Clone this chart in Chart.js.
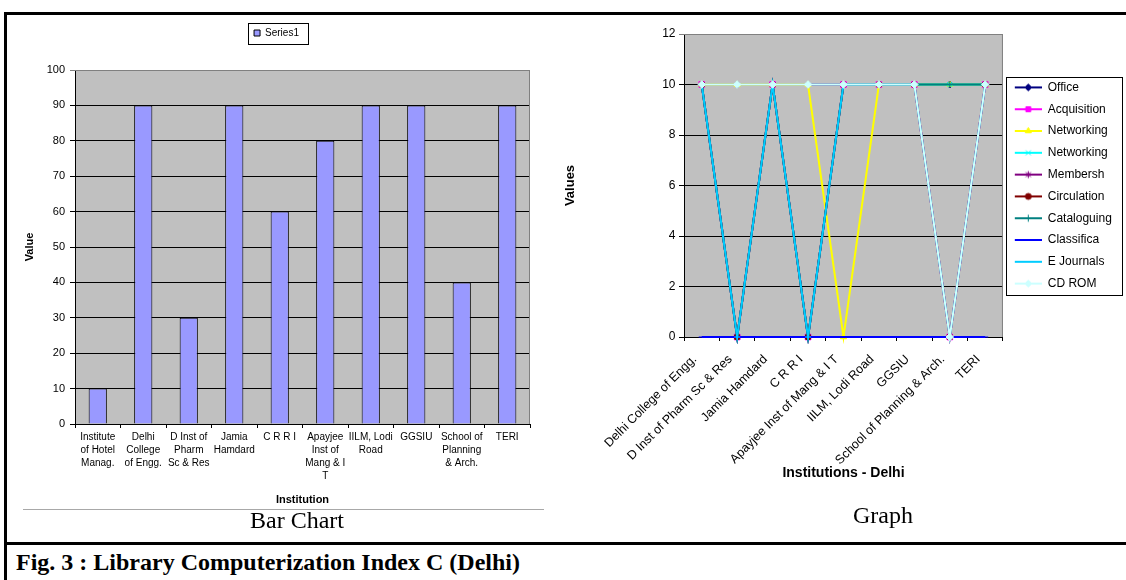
<!DOCTYPE html>
<html><head><meta charset="utf-8">
<script src="https://cdn.jsdelivr.net/npm/chart.js@4.4.1/dist/chart.umd.min.js"></script>
<style>
html,body{margin:0;padding:0;width:1126px;height:580px;overflow:hidden;background:#fff;}
.abs{position:absolute;}
.serif{font-family:'Liberation Serif','Times New Roman',serif;color:#000;white-space:nowrap;}
</style></head><body>
<div class="abs" style="left:4px;top:12px;width:1122px;height:3px;background:#000"></div>
<div class="abs" style="left:4px;top:12px;width:3px;height:568px;background:#000"></div>
<div class="abs" style="left:4px;top:542px;width:1122px;height:3px;background:#000"></div>
<div class="abs" style="left:23px;top:509px;width:521px;height:1px;background:#a8a8a8"></div>
<canvas id="c1" class="abs" style="left:0;top:0;width:560px;height:540px" width="560" height="540"></canvas>
<canvas id="c2" class="abs" style="left:560px;top:0;width:566px;height:540px" width="566" height="540"></canvas>
<div class="abs serif" style="left:197px;width:200px;text-align:center;top:508px;font-size:24px;line-height:24px">Bar Chart</div>
<div class="abs serif" style="left:783px;width:200px;text-align:center;top:503px;font-size:24px;line-height:24px">Graph</div>
<div class="abs serif" style="left:16px;top:550px;font-size:24px;line-height:24px;font-weight:bold">Fig. 3 : Library Computerization Index C (Delhi)</div>
<script>
// ---------- DATA ----------
const barCategories = [
  ["Institute","of Hotel","Manag."],
  ["Delhi","College","of Engg."],
  ["D Inst of","Pharm","Sc & Res"],
  ["Jamia","Hamdard"],
  ["C R R I"],
  ["Apayjee","Inst of","Mang & I","T"],
  ["IILM, Lodi","Road"],
  ["GGSIU"],
  ["School of","Planning","& Arch."],
  ["TERI"]
];
const barSeriesName = "Series1";
const barValues = [10, 90, 30, 90, 60, 80, 90, 90, 40, 90];
const barYMin = 0, barYMax = 100, barYStep = 10;

const lineCategories = ["Delhi College of Engg.","D Inst of Pharm Sc & Res","Jamia Hamdard","C R R I",
  "Apayjee Inst of Mang & I T","IILM, Lodi Road","GGSIU","School of Planning & Arch.","TERI"];
const seriesNames = ["Office","Acquisition","Networking","Networking","Membersh","Circulation","Cataloguing","Classifica","E Journals","CD ROM"];
const officeValues      = [10, 10, 10, 10, 10, 10, 10, 10, 10];
const acquisitionValues = [10, 0, 10, 0, 10, 10, 10, 0, 10];
const networkingAValues = [10, 10, 10, 10, 0, 10, 10, 10, 10];
const networkingBValues = [10, 0, 10, 0, 10, 10, 10, 10, 10];
const membershValues    = [10, 0, 10, 0, 10, 10, 10, 0, 10];
const circulationValues = [10, 0, 10, 0, 10, 10, 10, 0, 10];
const cataloguingValues = [10, 0, 10, 0, 10, 10, 10, 10, 10];
const classificaValues  = [0, 0, 0, 0, 0, 0, 0, 0, 0];
const eJournalsValues   = [10, 0, 10, 0, 10, 10, 10, 0, 10];
const cdRomValues       = [10, 10, 10, 10, 10, 10, 10, 0, 10];
const lineYMin = 0, lineYMax = 12, lineYStep = 2;

// ---------- STYLES ----------
const seriesColors = ["#000080","#FF00FF","#FFFF00","#00FFFF","#800080","#800000","#008080","#0000FF","#00CCFF","#CCFFFF"];
const seriesMarkers = ["rectRot","rect","triangle","crossRot","star","circle","cross","line","line","rectRot"];
const seriesRadius = [3.5,4,3.5,3.5,3.5,3,3.5,3,3,3.8];

Chart.defaults.font.family = "'Liberation Sans', Arial, sans-serif";
Chart.defaults.color = "#000";

const plotBg = {
  id: 'plotBg',
  beforeDraw(chart) {
    const {ctx, chartArea: a} = chart;
    ctx.save(); ctx.fillStyle = '#C0C0C0';
    ctx.fillRect(a.left, a.top, a.right - a.left, a.bottom - a.top); ctx.restore();
  },
  beforeDatasetsDraw(chart) {
    const {ctx, chartArea: a} = chart;
    ctx.save(); ctx.strokeStyle = '#808080'; ctx.lineWidth = 1;
    ctx.beginPath(); ctx.moveTo(a.left, a.top + 0.5); ctx.lineTo(a.right - 0.5, a.top + 0.5);
    ctx.lineTo(a.right - 0.5, a.bottom); ctx.stroke(); ctx.restore();
  }
};
const legendFrame = {
  id: 'legendFrame',
  afterDraw(chart, args, o) {
    const lg = chart.legend;
    if (!lg || !lg.legendHitBoxes || !lg.legendHitBoxes.length) return;
    const hb = lg.legendHitBoxes, f = hb[0], l = hb[hb.length - 1];
    let x0, x1;
    if (o.mode === 'item') { x0 = f.left - o.pl; x1 = f.left + f.width + o.pr; }
    else { x0 = lg.left + o.pl; x1 = lg.left + o.pr; }
    const y0 = f.top - o.pt, y1 = l.top + l.height + o.pb;
    const ctx = chart.ctx;
    ctx.save(); ctx.strokeStyle = '#000'; ctx.lineWidth = 1;
    ctx.strokeRect(Math.round(x0) + 0.5, Math.round(y0) + 0.5, Math.round(x1 - x0), Math.round(y1 - y0));
    ctx.restore();
  }
};

// ---------- BAR CHART ----------
new Chart(document.getElementById('c1'), {
  type: 'bar',
  data: {
    labels: barCategories,
    datasets: [{ label: barSeriesName, data: barValues, backgroundColor: '#9999FF',
      borderColor: '#000', borderWidth: 1, categoryPercentage: 1, barPercentage: 0.4 }]
  },
  options: {
    responsive: false, animation: false,
    layout: { padding: { left: 23, right: 30, top: 18, bottom: 33 } },
    plugins: {
      legend: { position: 'top', weight: 3000,
        labels: { boxWidth: 6, boxHeight: 6, padding: 10, font: { size: 10 }, color: '#000' } },
      title: { display: true, text: '', padding: { top: 0, bottom: 12 }, font: { size: 10, lineHeight: 1 } },
      tooltip: { enabled: false },
      legendFrame: { mode: 'item', pl: 6, pr: 9, pt: 5, pb: 6 }
    },
    scales: {
      x: {
        grid: { offset: true, drawOnChartArea: false, tickLength: 4, color: '#000' },
        border: { color: '#000' },
        ticks: { maxRotation: 0, autoSkip: false, padding: 3, font: { size: 10, lineHeight: 1.3 }, color: '#000' },
        title: { display: true, text: 'Institution', font: { size: 11, weight: 'bold' }, padding: { top: 4, bottom: 0 }, color: '#000' },
        afterFit(s) { s.height = 83; }
      },
      y: {
        min: barYMin, max: barYMax,
        ticks: { stepSize: barYStep, padding: 5, font: { size: 11 }, color: '#000' },
        grid: { tickLength: 5, color: c => (c.tick && c.tick.value === barYMax) ? '#808080' : '#000' },
        border: { color: '#000' },
        title: { display: true, text: 'Value', font: { size: 11, weight: 'bold' }, padding: 0, color: '#000' },
        afterFit(s) { s.width = 52; }
      }
    }
  },
  plugins: [plotBg, legendFrame]
});

// ---------- LINE CHART ----------
const lineSeriesValues = [officeValues, acquisitionValues, networkingAValues, networkingBValues, membershValues,
  circulationValues, cataloguingValues, classificaValues, eJournalsValues, cdRomValues];

function makeIcon(color, style, radius) {
  const c = document.createElement('canvas'); c.width = 29; c.height = 12;
  const g = c.getContext('2d');
  g.strokeStyle = color; g.lineWidth = 2;
  g.beginPath(); g.moveTo(2, 6); g.lineTo(29, 6); g.stroke();
  g.fillStyle = color; g.strokeStyle = color; g.lineWidth = 1;
  Chart.helpers.drawPoint(g, { pointStyle: style, radius: Math.min(radius, 3.5), rotation: 0, borderWidth: 1 }, 15.5, 6);
  return c;
}
const legendIcons = seriesNames.map((n, i) => makeIcon(seriesColors[i], seriesMarkers[i], seriesRadius[i]));

const lineDatasets = seriesNames.map((name, i) => ({
  label: name, data: lineSeriesValues[i],
  borderColor: seriesColors[i], backgroundColor: seriesColors[i],
  pointBackgroundColor: seriesColors[i], pointBorderColor: seriesColors[i],
  pointStyle: seriesMarkers[i], pointRadius: seriesRadius[i], pointBorderWidth: 1,
  borderWidth: 2, tension: 0, clip: 8, order: seriesNames.length - 1 - i
}));

new Chart(document.getElementById('c2'), {
  type: 'line',
  data: { labels: lineCategories, datasets: lineDatasets },
  options: {
    responsive: false, animation: false,
    layout: { padding: { left: 3, right: 4.2, top: 34, bottom: 58.6 } },
    plugins: {
      legend: { position: 'right', fullSize: false, align: 'center',
        labels: { usePointStyle: true, pointStyleWidth: 29, boxHeight: 12, padding: 9.8,
          font: { size: 12 }, color: '#000',
          generateLabels(chart) {
            const items = Chart.defaults.plugins.legend.labels.generateLabels(chart);
            items.forEach(it => { it.pointStyle = legendIcons[it.datasetIndex]; });
            items.sort((a, b) => a.datasetIndex - b.datasetIndex);
            return items;
          } } },
      tooltip: { enabled: false },
      legendFrame: { mode: 'legend', pl: 3, pr: 119, pt: 4.5, pb: 5.5 }
    },
    scales: {
      x: {
        offset: true,
        grid: { offset: true, drawOnChartArea: false, tickLength: 4, color: '#000' },
        border: { color: '#000' },
        ticks: { minRotation: 45, maxRotation: 45, autoSkip: false, padding: 11, labelOffset: -7, font: { size: 12.5 }, color: '#000' },
        title: { display: true, text: 'Institutions - Delhi', font: { size: 14, weight: 'bold' }, padding: { top: 0, bottom: 0 }, color: '#000' },
        afterFit(s) { s.height = 144.4; }
      },
      y: {
        min: lineYMin, max: lineYMax,
        ticks: { stepSize: lineYStep, padding: 3.5, font: { size: 12 }, color: '#000' },
        grid: { tickLength: 5, color: c => (c.tick && c.tick.value === lineYMax) ? '#808080' : '#000' },
        border: { color: '#000' },
        title: { display: true, text: 'Values', font: { size: 13, weight: 'bold' }, padding: 0, color: '#000' },
        afterFit(s) { s.width = 121; }
      }
    }
  },
  plugins: [plotBg, legendFrame]
});
</script>
</body></html>
